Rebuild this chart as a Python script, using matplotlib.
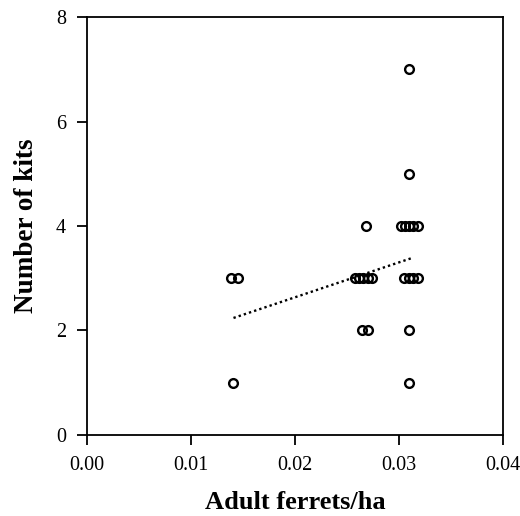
import numpy as np
import matplotlib.pyplot as plt

plt.rcParams['font.family'] = ['Liberation Serif', 'DejaVu Serif']

# adult ferret density (per ha) and number of kits per litter
ferrets = [0.0139, 0.0145, 0.0141,
           0.0268, 0.0302, 0.0306, 0.0310, 0.0314, 0.0318,
           0.0258, 0.0262, 0.0266, 0.0270, 0.0274,
           0.0305, 0.0310, 0.0314, 0.0318,
           0.0265, 0.0270, 0.0310,
           0.0310, 0.0310, 0.0310]
kits = [3, 3, 1,
        4, 4, 4, 4, 4, 4,
        3, 3, 3, 3, 3,
        3, 3, 3, 3,
        2, 2, 2,
        7, 5, 1]

# fitted trend line end points
trend_x = [0.0141, 0.0313]
trend_y = [2.24, 3.39]

fig = plt.figure(figsize=(5.2, 5.16), dpi=100)
ax = fig.add_axes([0.167, 0.157, 0.800, 0.810])

ax.plot(ferrets, kits, "o", mfc="none", mec="black", ms=6.3, mew=1.7, ls="none")
ax.plot(trend_x, trend_y, color="black", lw=1.7, ls=(0, (1, 1.3)))

ax.set_xlim(0, 0.04)
ax.set_ylim(0, 8)
ax.set_xticks([0.00, 0.01, 0.02, 0.03, 0.04])
ax.set_xticklabels(["0.00", "0.01", "0.02", "0.03", "0.04"])
ax.set_yticks([0, 2, 4, 6, 8])
ax.tick_params(direction="out", length=7, width=1.3, labelsize=14.5, pad=8)
for s in ax.spines.values():
    s.set_linewidth(1.3)

ax.set_xlabel("Adult ferrets/ha", fontsize=19, fontweight="bold", labelpad=12)
ax.set_ylabel("Number of kits", fontsize=19.5, fontweight="bold", labelpad=12)

fig.savefig("out.png", dpi=100)
